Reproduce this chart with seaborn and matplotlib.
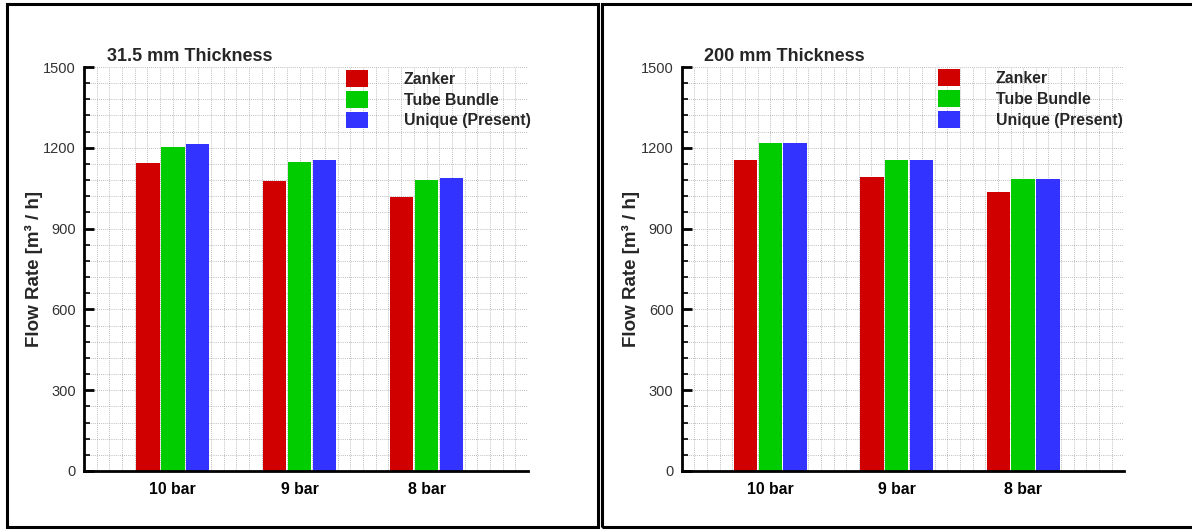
import matplotlib
matplotlib.use("Agg")
import matplotlib.pyplot as plt
import seaborn as sns
import pandas as pd
from matplotlib.ticker import MultipleLocator
from matplotlib.patches import Rectangle

# ---- data ----
categories = ["10 bar", "9 bar", "8 bar"]
series = ["Zanker", "Tube Bundle", "Unique (Present)"]
colors = ["#D00000", "#00CC00", "#3333FF"]

thin_zanker = [1143, 1076, 1017]
thin_tube = [1203, 1149, 1082]
thin_unique = [1214, 1156, 1088]

thick_zanker = [1154, 1092, 1035]
thick_tube = [1219, 1154, 1086]
thick_unique = [1219, 1156, 1086]

titles = ["31.5 mm Thickness", "200 mm Thickness"]
y_ticks = [0, 300, 600, 900, 1200, 1500]


def make_df(z, t, u):
    rows = []
    for name, vals in zip(series, [z, t, u]):
        for c, v in zip(categories, vals):
            rows.append({"Pressure": c, "Model": name, "Flow": v})
    return pd.DataFrame(rows)


sns.set_theme(style="white")
plt.rcParams["font.family"] = ["Liberation Sans", "DejaVu Sans"]

W, H = 1192, 531
fig = plt.figure(figsize=(W / 100, H / 100), dpi=100)

panels = [
    dict(df=make_df(thin_zanker, thin_tube, thin_unique), title=titles[0],
         ax=(84, 528), title_x=106.8, leg=(345.6, 70), ylab_x=43),
    dict(df=make_df(thick_zanker, thick_tube, thick_unique), title=titles[1],
         ax=(681.8, 1124.3), title_x=704.3, leg=(937.7, 69.3), ylab_x=640),
]

ax_top, ax_bot = 67, 471
FS = 11.4

for p in panels:
    x0, x1 = p["ax"]
    ax = fig.add_axes([x0 / W, (H - ax_bot) / H, (x1 - x0) / W, (ax_bot - ax_top) / H])
    sns.barplot(data=p["df"], x="Pressure", y="Flow", hue="Model",
                order=categories, hue_order=series, palette=colors,
                width=0.59, gap=0.06, saturation=1, ax=ax, legend=True,
                linewidth=0)
    ax.set_xlim(-0.7, 2.8)
    ax.set_ylim(0, 1500)
    ax.set_xticks([0, 1, 2])
    ax.set_xticklabels(categories, fontsize=FS, fontweight="bold", color="black")
    ax.xaxis.set_minor_locator(MultipleLocator(0.1))
    ax.set_yticks(y_ticks)
    ax.set_yticklabels([str(v) for v in y_ticks], fontsize=10.5, color="#333333")
    ax.yaxis.set_minor_locator(MultipleLocator(60))
    ax.tick_params(axis="x", which="both", length=0, pad=8)
    ax.tick_params(axis="y", which="major", direction="in", length=7.5, width=2,
                   color="black", pad=6, left=True)
    ax.tick_params(axis="y", which="minor", direction="in", length=4, width=1.2,
                   color="black", left=True)
    ax.grid(True, which="both", axis="both", linestyle=(0, (1, 1.5)),
            color="#a8a8a8", linewidth=0.6)
    ax.set_axisbelow(True)
    for s in ["top", "right"]:
        ax.spines[s].set_visible(False)
    for s in ["left", "bottom"]:
        ax.spines[s].set_linewidth(2)
        ax.spines[s].set_color("black")
    ax.set_xlabel("")
    ax.set_ylabel("Flow Rate [m³ / h]", fontsize=13.5, fontweight="bold")
    ax.yaxis.set_label_coords((p["ylab_x"] - x0) / (x1 - x0), 0.5)

    handles, labels = ax.get_legend_handles_labels()
    lx, ly = p["leg"]
    ax.legend(handles=handles, labels=labels, loc="upper left",
              bbox_to_anchor=(lx / W, 1 - ly / H), bbox_transform=fig.transFigure,
              frameon=False, borderpad=0, borderaxespad=0,
              handlelength=1.39, handleheight=1.26, labelspacing=0.25,
              handletextpad=2.29, prop={"size": FS, "weight": "bold"})

    fig.text(p["title_x"] / W, 1 - 56.7 / H, p["title"], fontsize=13,
             fontweight="bold", va="center", ha="left")

# panel frames
lw = 2.2
fig.patches.append(Rectangle((6.5 / W, 1 - 527 / H), (598 - 6.5) / W, (527 - 3.5) / H,
                             transform=fig.transFigure, fill=False, edgecolor="black",
                             linewidth=lw))
fig.patches.append(Rectangle((602 / W, 1 - 527 / H), (1200 - 602) / W, (527 - 3.5) / H,
                             transform=fig.transFigure, fill=False, edgecolor="black",
                             linewidth=lw))

fig.savefig("out.png", dpi=100)
